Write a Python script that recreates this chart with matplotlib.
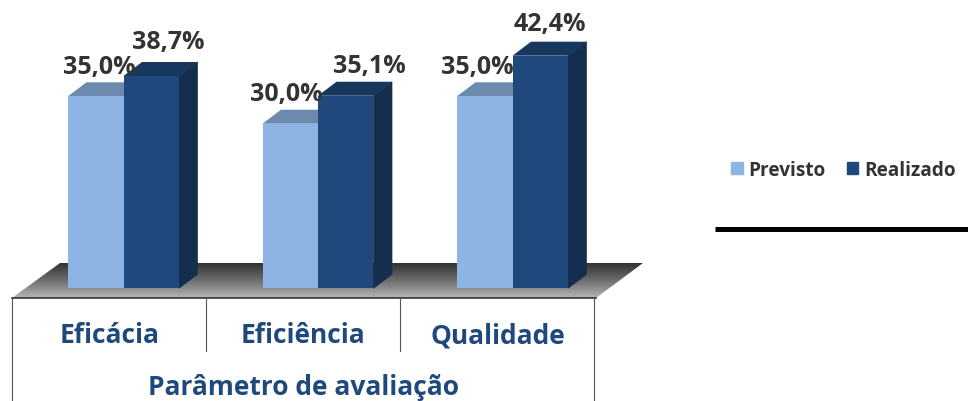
import matplotlib
matplotlib.use('Agg')
import matplotlib.pyplot as plt
import numpy as np
from matplotlib.patches import Polygon, Patch

plt.rcParams['font.family'] = ['Open Sans', 'DejaVu Sans']

categories = ['Eficácia', 'Eficiência', 'Qualidade']
previsto = [35.0, 30.0, 35.0]
realizado = [38.7, 35.1, 42.4]
axis_title = 'Parâmetro de avaliação'

W, H = 968, 402
# pixel layout of the reference
X0, X_STEP = 123.5, 194.5
Y0, Y_STEP = 289.3, 5.486
BAR_W = 55.5 / X_STEP
DX, DY = 18.5 / X_STEP, 14 / Y_STEP

C_LIGHT, C_LIGHT_TOP = '#8DB4E3', '#6C89AE'
C_DARK, C_DARK_TOP, C_DARK_SIDE = '#1F497D', '#17375E', '#152E4E'
C_TEXT, C_BLUE = '#333333', '#1F497D'

def px_x(p):
    return (p - X0) / X_STEP

def px_y(p):
    return (Y0 - p) / Y_STEP

fig = plt.figure(figsize=(W / 100, H / 100), dpi=100)
ax = fig.add_axes([0, 0, 1, 1])
ax.set_xlim(px_x(0), px_x(W))
ax.set_ylim(px_y(H), px_y(0))
ax.axis('off')

# floor with its gradient
floor = Polygon([(px_x(12), px_y(299)), (px_x(596), px_y(299)),
                 (px_x(643), px_y(264)), (px_x(60), px_y(264))],
                closed=True, fc='none', ec='none', transform=ax.transData)
ax.add_patch(floor)
grad = np.linspace(0, 1, 64).reshape(-1, 1)
img = ax.imshow(grad, extent=(px_x(12), px_x(643), px_y(299), px_y(264)), aspect='auto',
                cmap=matplotlib.colors.LinearSegmentedColormap.from_list('floor', ['#333333', '#6E6E6E', '#B4B4B4']),
                zorder=1)
img.set_clip_path(floor)
ax.set_xlim(px_x(0), px_x(W))
ax.set_ylim(px_y(H), px_y(0))

x = np.arange(len(categories))

# 3d faces first, fronts on top
for i in x:
    x_l = i - BAR_W
    ax.add_patch(Polygon([(x_l, previsto[i]), (i, previsto[i]), (i + DX, previsto[i] + DY), (x_l + DX, previsto[i] + DY)],
                         fc=C_LIGHT_TOP, ec='none', zorder=2))
    x_r = i + BAR_W
    ax.add_patch(Polygon([(i, realizado[i]), (x_r, realizado[i]), (x_r + DX, realizado[i] + DY), (i + DX, realizado[i] + DY)],
                         fc=C_DARK_TOP, ec='none', zorder=3))
    ax.add_patch(Polygon([(x_r, 0), (x_r + DX, DY), (x_r + DX, realizado[i] + DY), (x_r, realizado[i])],
                         fc=C_DARK_SIDE, ec=C_DARK_SIDE, lw=0.5, zorder=3))

ax.bar(x - BAR_W / 2, previsto, BAR_W, color=C_LIGHT, zorder=3)
ax.bar(x + BAR_W / 2, realizado, BAR_W, color=C_DARK, zorder=4)

# data labels were moved by hand in the original, so offsets differ (px)
prev_off = [(4, 30), (-4, 30), (-7, 30)]
real_off = [(17, 34), (24, 30), (10, 32)]
for i in x:
    ax.annotate(f'{previsto[i]:.1f}%'.replace('.', ','), (i - BAR_W / 2, previsto[i]),
                xytext=(prev_off[i][0] * 0.72, prev_off[i][1] * 0.72), textcoords='offset points',
                ha='center', va='center', fontsize=18, fontweight='bold', color=C_TEXT, zorder=6)
    ax.annotate(f'{realizado[i]:.1f}%'.replace('.', ','), (i + BAR_W / 2, realizado[i]),
                xytext=(real_off[i][0] * 0.72, real_off[i][1] * 0.72), textcoords='offset points',
                ha='center', va='center', fontsize=18, fontweight='bold', color=C_TEXT, zorder=6)

# axis frame under the floor
ax.plot([px_x(12), px_x(596)], [px_y(299), px_y(299)], color='#333333', lw=1.2, zorder=5)
for p, end in [(12, 402), (206, 352), (400, 352), (594, 402)]:
    ax.plot([px_x(p), px_x(p)], [px_y(299), px_y(end)], color='#555555', lw=0.8, zorder=5)

for i, c in enumerate(categories):
    ax.text(px_x([109.5, 303, 497.5][i]), px_y(336), c, ha='center', va='center',
            fontsize=19, fontweight='bold', color=C_BLUE)
ax.text(px_x(304), px_y(388), axis_title, ha='center', va='center',
        fontsize=19, fontweight='bold', color=C_BLUE)

handles = [Patch(color=C_LIGHT, label='Previsto'), Patch(color=C_DARK, label='Realizado')]
ax.legend(handles=handles, ncol=2, frameon=False, loc='center', bbox_to_anchor=(843.5 / W, 1 - 171 / H),
          prop={'size': 13.7, 'weight': 'bold'}, labelcolor=C_TEXT, handlelength=0.6, handleheight=0.6,
          handletextpad=0.3, columnspacing=1.1)

ax.plot([px_x(715), px_x(968)], [px_y(230), px_y(230)], color='black', lw=3.6, solid_capstyle='butt', zorder=5)

fig.savefig('out.png', dpi=100)
